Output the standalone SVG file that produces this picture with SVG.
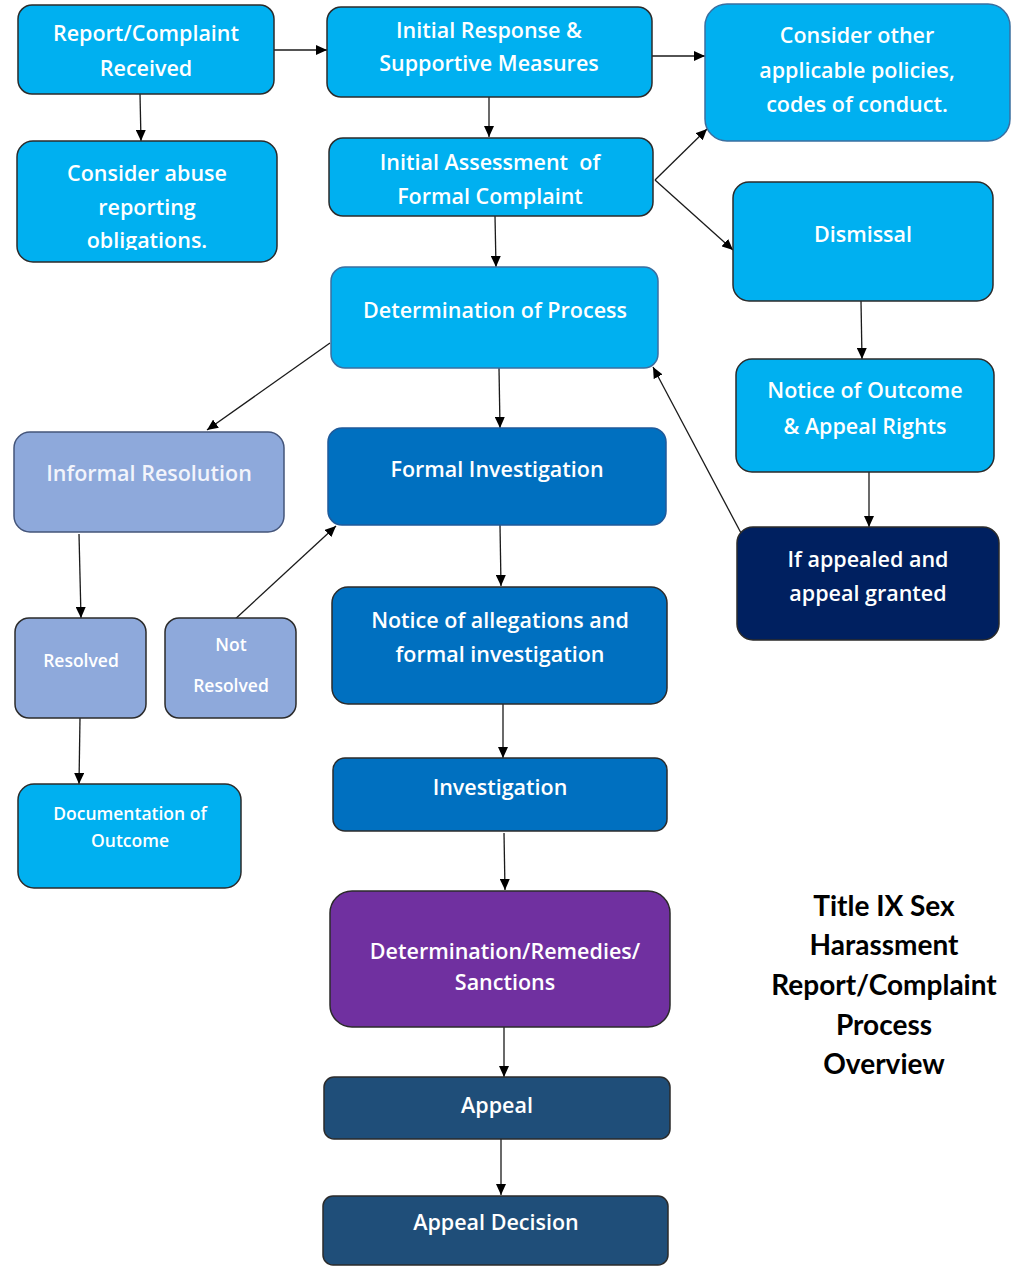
<svg xmlns="http://www.w3.org/2000/svg" width="1013" height="1269" viewBox="0 0 1013 1269">
<defs>
<style>
.box{stroke:#2b2b2b;stroke-width:1.5}
.lb{fill:#00B0F0}
.inf{fill:#8EA9DB;stroke:#44557a}
.mb{fill:#0070C0}
.nv{fill:#002060}
.pu{fill:#7030A0}
.db{fill:#1F4E79}
.t{font-family:"Open Sans","Noto Sans",sans-serif;font-weight:600;font-size:21.5px;fill:#ffffff;text-anchor:middle}
.ts{font-size:17.5px}
.title{font-family:Lato,"Liberation Sans",sans-serif;font-weight:700;font-size:28px;fill:#000;text-anchor:middle}
.c{stroke:#1a1a1a;stroke-width:1.3;fill:none;marker-end:url(#ah)}
</style>
<marker id="ah" markerUnits="userSpaceOnUse" markerWidth="12" markerHeight="10" refX="11" refY="5" orient="auto">
<path d="M0,0 L11,5 L0,10 Z" fill="#000"/>
</marker>
<clipPath id="clip4"><rect x="17" y="141" width="260" height="109"/></clipPath>
</defs>

<g id="connectors">
<line class="c" x1="274" y1="50" x2="327" y2="50"/>
<line class="c" x1="140" y1="94" x2="141" y2="141"/>
<line class="c" x1="652" y1="56" x2="705" y2="56"/>
<line class="c" x1="489" y1="97" x2="489" y2="137"/>
<line class="c" x1="655" y1="180" x2="707" y2="129"/>
<line class="c" x1="655" y1="180" x2="733" y2="250"/>
<line class="c" x1="495" y1="216" x2="496" y2="267"/>
<line class="c" x1="330" y1="343" x2="207" y2="430"/>
<line class="c" x1="499" y1="368" x2="500" y2="428"/>
<line class="c" x1="861" y1="301" x2="862" y2="359"/>
<line class="c" x1="869" y1="472" x2="869" y2="527"/>
<line class="c" x1="741" y1="533" x2="653" y2="367"/>
<line class="c" x1="79" y1="534" x2="81" y2="618"/>
<line class="c" x1="232" y1="622" x2="336" y2="526"/>
<line class="c" x1="80" y1="718" x2="79" y2="784"/>
<line class="c" x1="500" y1="525" x2="501" y2="586"/>
<line class="c" x1="503" y1="704" x2="503" y2="758"/>
<line class="c" x1="504" y1="833" x2="505" y2="890"/>
<line class="c" x1="504" y1="1027" x2="504" y2="1077"/>
<line class="c" x1="501" y1="1139" x2="501" y2="1195"/>
</g>

<g id="n1"><rect class="box lb" x="18" y="5" width="256" height="89" rx="14"/>
<text class="t" x="146" y="41">Report/Complaint</text><text class="t" x="146" y="76">Received</text></g>

<g id="n2"><rect class="box lb" x="327" y="7" width="325" height="90" rx="14"/>
<text class="t" x="489" y="38">Initial Response &amp;</text><text class="t" x="489" y="71">Supportive Measures</text></g>

<g id="n3"><rect class="box lb" x="705" y="4" width="305" height="137" rx="22" style="stroke:#3a6fa0"/>
<text class="t" x="857" y="43">Consider other</text><text class="t" x="857" y="78">applicable policies,</text><text class="t" x="857" y="112">codes of conduct.</text></g>

<g id="n4"><rect class="box lb" x="17" y="141" width="260" height="121" rx="16"/>
<g clip-path="url(#clip4)"><text class="t" x="147" y="181">Consider abuse</text><text class="t" x="147" y="215">reporting</text><text class="t" x="147" y="248">obligations.</text></g></g>

<g id="n5"><rect class="box lb" x="329" y="138" width="324" height="78" rx="14"/>
<text class="t" x="490" y="170" xml:space="preserve">Initial Assessment  of</text><text class="t" x="490" y="204">Formal Complaint</text></g>

<g id="n6"><rect class="box lb" x="733" y="182" width="260" height="119" rx="16"/>
<text class="t" x="863" y="242">Dismissal</text></g>

<g id="n7"><rect class="box lb" x="331" y="267" width="327" height="101" rx="14" style="stroke:#3a6fa0"/>
<text class="t" x="495" y="318">Determination of Process</text></g>

<g id="n8"><rect class="box lb" x="736" y="359" width="258" height="113" rx="16"/>
<text class="t" x="865" y="398">Notice of Outcome</text><text class="t" x="865" y="434">&amp; Appeal Rights</text></g>

<g id="n9"><rect class="box inf" x="14" y="432" width="270" height="100" rx="16"/>
<text class="t" x="149" y="481" style="fill:#f2f4fb">Informal Resolution</text></g>

<g id="n10"><rect class="box mb" x="328" y="428" width="338" height="97" rx="14" style="stroke:#1f5a9a"/>
<text class="t" x="497" y="477">Formal Investigation</text></g>

<g id="n11"><rect class="box nv" x="737" y="527" width="262" height="113" rx="16"/>
<text class="t" x="868" y="567">If appealed and</text><text class="t" x="868" y="601">appeal granted</text></g>

<g id="n12"><rect class="box inf" x="15" y="618" width="131" height="100" rx="14" style="stroke:#2b2b2b"/>
<text class="t ts" x="81" y="667">Resolved</text></g>

<g id="n13"><rect class="box inf" x="165" y="618" width="131" height="100" rx="14" style="stroke:#2b2b2b"/>
<text class="t ts" x="231" y="651">Not</text><text class="t ts" x="231" y="692">Resolved</text></g>

<g id="n14"><rect class="box mb" x="332" y="587" width="335" height="117" rx="16"/>
<text class="t" x="500" y="628">Notice of allegations and</text><text class="t" x="500" y="662">formal investigation</text></g>

<g id="n15"><rect class="box lb" x="18" y="784" width="223" height="104" rx="16"/>
<text class="t ts" x="130" y="820">Documentation of</text><text class="t ts" x="130" y="847">Outcome</text></g>

<g id="n16"><rect class="box mb" x="333" y="758" width="334" height="73" rx="12"/>
<text class="t" x="500" y="795">Investigation</text></g>

<g id="n17"><rect class="box pu" x="330" y="891" width="340" height="136" rx="22"/>
<text class="t" x="505" y="959">Determination/Remedies/</text><text class="t" x="505" y="990">Sanctions</text></g>

<g id="n18"><rect class="box db" x="324" y="1077" width="346" height="62" rx="10"/>
<text class="t" x="497" y="1113">Appeal</text></g>

<g id="n19"><rect class="box db" x="323" y="1196" width="345" height="69" rx="10"/>
<text class="t" x="496" y="1230">Appeal Decision</text></g>

<g id="title">
<text class="title" x="884" y="916">Title IX Sex</text>
<text class="title" x="884" y="955">Harassment</text>
<text class="title" x="884" y="995">Report/Complaint</text>
<text class="title" x="884" y="1035">Process</text>
<text class="title" x="884" y="1074">Overview</text>
</g>
</svg>
